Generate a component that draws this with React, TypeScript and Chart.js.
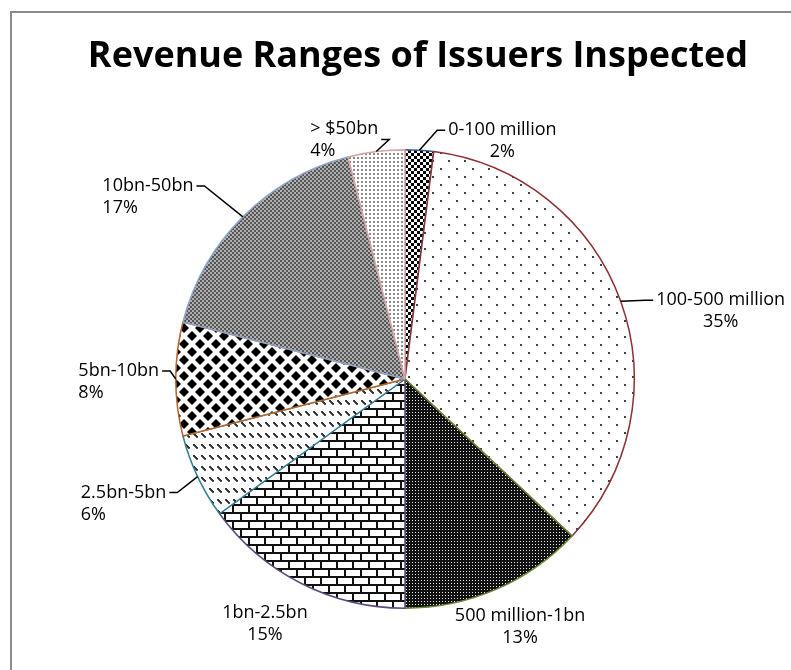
import { useEffect, useRef } from 'react';
import { Chart, registerables } from 'chart.js';

Chart.register(...registerables);

// ---- data ----
const chartTitle = 'Revenue Ranges of Issuers Inspected';
const categories = [
  '0-100 million',
  '100-500 million',
  '500 million-1bn',
  '1bn-2.5bn',
  '2.5bn-5bn',
  '5bn-10bn',
  '10bn-50bn',
  '> $50bn',
];
const shares = [2, 35, 13, 15, 6, 8, 17, 4];

// ---- styles ----
const borderColors = ['#3b5f8c', '#8c3234', '#6f8b37', '#5c4a7d', '#2f7f96', '#b5672c', '#8fa4c9', '#dba3a3'];
const patternKinds = ['check', 'sparse', 'darkdots', 'brick', 'diag', 'diamond', 'finecheck', 'greydots'];

// label placement relative to the arc's outer mid point
const labelPlacement = [
  { dx: 83, dy: -9, align: 'center', side: 'left', line: 0 },
  { dx: 100, dy: 10, align: 'center', side: 'left', line: 0 },
  { dx: 24, dy: 37, align: 'center', side: '', line: 0 },
  { dx: -36, dy: 41, align: 'center', side: '', line: 0 },
  { dx: -74, dy: 27, align: 'left', side: 'right', line: 0 },
  { dx: -57, dy: 3, align: 'left', side: 'right', line: 0 },
  { dx: -95, dy: -20, align: 'left', side: 'right', line: 0 },
  { dx: -32, dy: -12, align: 'left', side: 'right', line: 0.5 },
];

const LABEL_FONT = '18px "Open Sans"';
const TITLE_FONT = 'bold 36px "Open Sans"';

function makePattern(kind: string): CanvasPattern | string {
  const c = document.createElement('canvas');
  const g = c.getContext('2d')!;
  const px = (x: number, y: number, w: number, h: number, col: string) => {
    g.fillStyle = col;
    g.fillRect(x, y, w, h);
  };
  const diamond = (cx: number, cy: number, r: number) => {
    g.beginPath();
    g.moveTo(cx, cy - r);
    g.lineTo(cx + r, cy);
    g.lineTo(cx, cy + r);
    g.lineTo(cx - r, cy);
    g.closePath();
    g.fill();
  };
  switch (kind) {
    case 'check':
      c.width = 6; c.height = 6;
      px(0, 0, 6, 6, '#ffffff');
      px(0, 0, 3, 3, '#000000');
      px(3, 3, 3, 3, '#000000');
      break;
    case 'sparse':
      c.width = 16; c.height = 16;
      px(0, 0, 16, 16, '#ffffff');
      px(0, 0, 2, 2, '#444444');
      px(8, 8, 2, 2, '#444444');
      break;
    case 'darkdots':
      c.width = 3; c.height = 3;
      px(0, 0, 3, 3, '#111111');
      px(1, 1, 1, 1, '#e8e8e8');
      break;
    case 'brick':
      c.width = 16; c.height = 16;
      px(0, 0, 16, 16, '#ffffff');
      px(0, 0, 16, 2, '#111111');
      px(0, 8, 16, 2, '#111111');
      px(0, 0, 2, 8, '#111111');
      px(8, 8, 2, 8, '#111111');
      break;
    case 'diag':
      c.width = 8; c.height = 11;
      px(0, 0, 8, 11, '#ffffff');
      g.fillStyle = '#333333';
      for (let k = 0; k < 4; k++) g.fillRect(1 + k, 4 + k, 2, 1.8);
      break;
    case 'diamond':
      c.width = 16; c.height = 16;
      px(0, 0, 16, 16, '#ffffff');
      g.fillStyle = '#000000';
      diamond(8, 8, 5);
      diamond(0, 0, 5);
      diamond(16, 0, 5);
      diamond(0, 16, 5);
      diamond(16, 16, 5);
      break;
    case 'finecheck':
      c.width = 4; c.height = 4;
      px(0, 0, 4, 4, '#b0b0b0');
      px(0, 0, 2, 2, '#555555');
      px(2, 2, 2, 2, '#555555');
      break;
    case 'greydots':
      c.width = 4; c.height = 4;
      px(0, 0, 4, 4, '#ffffff');
      px(1, 1, 2, 2, '#8a8a8a');
      break;
    default:
      return '#cccccc';
  }
  return g.createPattern(c, 'repeat') || '#cccccc';
}

const decorPlugin = {
  id: 'decor',
  beforeDraw(chart: any) {
    const ctx = chart.ctx as CanvasRenderingContext2D;
    ctx.save();
    ctx.fillStyle = '#ffffff';
    ctx.fillRect(0, 0, chart.width, chart.height);
    ctx.strokeStyle = '#8a8a8a';
    ctx.lineWidth = 2;
    ctx.beginPath();
    ctx.moveTo(11, chart.height);
    ctx.lineTo(11, 12);
    ctx.lineTo(chart.width, 12);
    ctx.stroke();
    ctx.restore();
  },
  afterDraw(chart: any) {
    const ctx = chart.ctx as CanvasRenderingContext2D;
    ctx.save();
    ctx.font = TITLE_FONT;
    ctx.fillStyle = '#000000';
    ctx.textAlign = 'center';
    ctx.textBaseline = 'alphabetic';
    ctx.fillText(chartTitle, 418, 67);
    ctx.restore();
  },
};

const labelPlugin = {
  id: 'outLabels',
  afterDatasetsDraw(chart: any) {
    const ctx = chart.ctx as CanvasRenderingContext2D;
    const meta = chart.getDatasetMeta(0);
    const total = shares.reduce((a, b) => a + b, 0);
    const lh = 22;
    ctx.save();
    ctx.font = LABEL_FONT;
    meta.data.forEach((arc: any, i: number) => {
      const { x, y, startAngle, endAngle, outerRadius } = arc.getProps(
        ['x', 'y', 'startAngle', 'endAngle', 'outerRadius'],
        true
      );
      const mid = (startAngle + endAngle) / 2;
      const ex = x + Math.cos(mid) * outerRadius;
      const ey = y + Math.sin(mid) * outerRadius;
      const p = labelPlacement[i];
      const cx = ex + p.dx;
      const cy = ey + p.dy;
      const lines = [categories[i], Math.round((shares[i] / total) * 100) + '%'];
      const w = Math.max(...lines.map((l) => ctx.measureText(l).width));
      ctx.fillStyle = '#000000';
      ctx.textBaseline = 'middle';
      lines.forEach((l, k) => {
        const ly = cy - lh / 2 + k * lh;
        if (p.align === 'left') {
          ctx.textAlign = 'left';
          ctx.fillText(l, cx - w / 2, ly);
        } else {
          ctx.textAlign = 'center';
          ctx.fillText(l, cx, ly);
        }
      });
      if (p.side) {
        const ay = cy - lh / 2 + p.line * lh;
        const ax = p.side === 'left' ? cx - w / 2 - 3 : cx + w / 2 + 3;
        const bx = p.side === 'left' ? ax - 8 : ax + 8;
        ctx.strokeStyle = '#000000';
        ctx.lineWidth = 1.5;
        ctx.beginPath();
        ctx.moveTo(ex, ey);
        ctx.lineTo(bx, ay);
        ctx.lineTo(ax, ay);
        ctx.stroke();
      }
    });
    ctx.restore();
  },
};

export default function App() {
  const ref = useRef<HTMLCanvasElement | null>(null);
  useEffect(() => {
    if (!ref.current) return;
    const patterns = patternKinds.map(makePattern);
    const chart = new Chart(ref.current, {
      type: 'pie',
      data: {
        labels: categories,
        datasets: [
          {
            data: shares,
            backgroundColor: patterns as any,
            borderColor: borderColors,
            borderWidth: 1.5,
          },
        ],
      },
      options: {
        responsive: false,
        animation: false,
        layout: { padding: { left: 175, right: 156, top: 149, bottom: 61 } },
        plugins: {
          legend: { display: false },
          tooltip: { enabled: false },
          title: { display: false },
        },
      },
      plugins: [decorPlugin, labelPlugin],
    });
    return () => chart.destroy();
  }, []);
  return (
    <div style={{ position: 'absolute', left: 0, top: 0, width: 791, height: 670 }}>
      <canvas ref={ref} width={791} height={670} style={{ display: 'block' }} />
    </div>
  );
}
